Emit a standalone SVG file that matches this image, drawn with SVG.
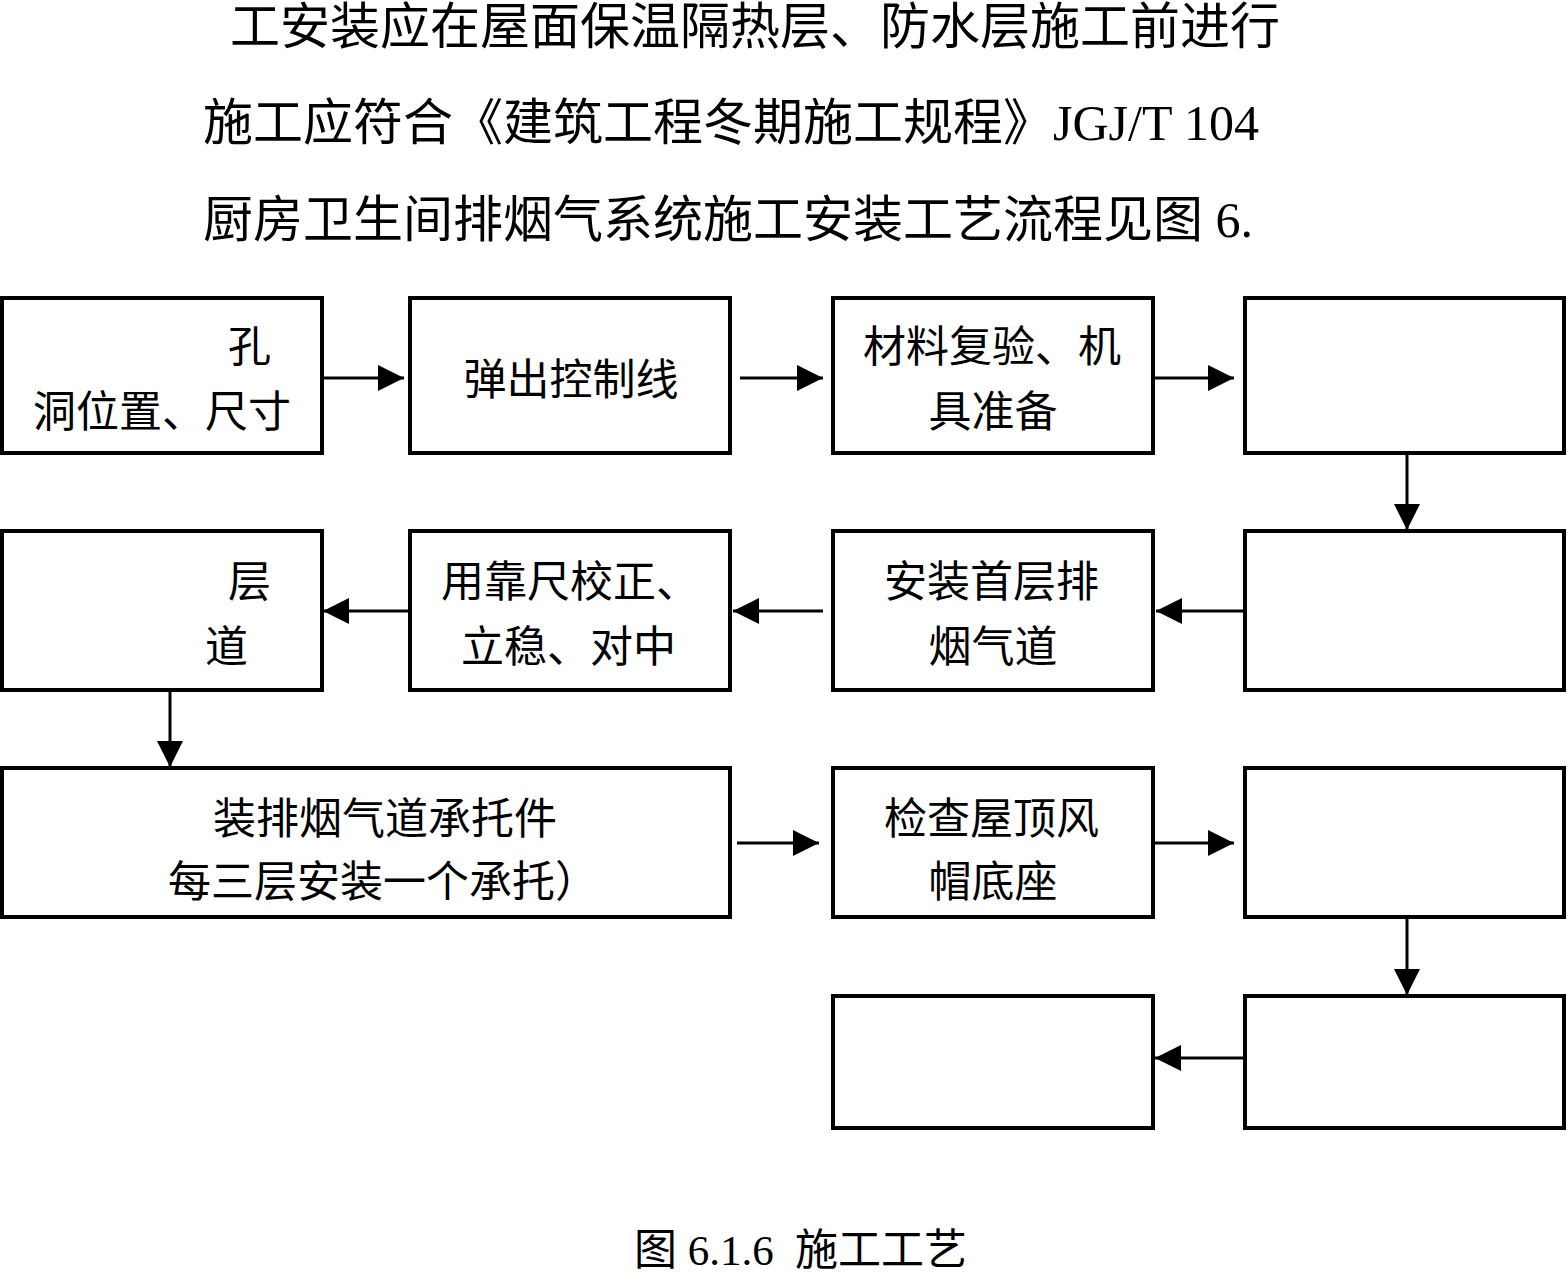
<svg xmlns="http://www.w3.org/2000/svg" width="1567" height="1272" viewBox="0 0 1567 1272">
<style>
  .bg{fill:#ffffff}
  .box{fill:#ffffff;stroke:#000;stroke-width:4}
  .t{font-family:"Liberation Serif","Noto Sans CJK SC",serif;font-size:43px;fill:#000}
  .h{font-family:"Liberation Serif","Noto Sans CJK SC",serif;font-size:50px;fill:#000}
  .c{text-anchor:middle}
  .ln{stroke:#000;stroke-width:3;fill:none;marker-end:url(#ah)}
</style>
<defs>
  <marker id="ah" markerUnits="userSpaceOnUse" markerWidth="28" markerHeight="26" refX="26" refY="13" orient="auto">
    <path d="M0,0 L26,13 L0,26 Z" fill="#000"/>
  </marker>
</defs>
<rect class="bg" x="0" y="0" width="1567" height="1272"/>

<g id="header">
  <text class="h" x="230" y="44">工安装应在屋面保温隔热层、防水层施工前进行</text>
  <text class="h" x="203" y="140">施工应符合《建筑工程冬期施工规程》JGJ/T 104</text>
  <text class="h" x="203" y="237">厨房卫生间排烟气系统施工安装工艺流程见图 6.</text>
</g>

<g id="n1"><rect class="box" x="2" y="298" width="320" height="155"/>
  <text class="t" x="228" y="362">孔</text>
  <text class="t" x="33" y="427">洞位置、尺寸</text></g>
<g id="n2"><rect class="box" x="410" y="298" width="320" height="155"/>
  <text class="t c" x="571" y="395">弹出控制线</text></g>
<g id="n3"><rect class="box" x="833" y="298" width="320" height="155"/>
  <text class="t" x="863" y="362">材料复验、机</text>
  <text class="t c" x="993" y="427">具准备</text></g>
<g id="n4"><rect class="box" x="1245" y="298" width="319" height="155"/></g>

<g id="n5"><rect class="box" x="1245" y="531" width="319" height="159"/></g>
<g id="n6"><rect class="box" x="833" y="531" width="320" height="159"/>
  <text class="t" x="884" y="597">安装首层排</text>
  <text class="t c" x="993" y="662">烟气道</text></g>
<g id="n7"><rect class="box" x="410" y="531" width="320" height="159"/>
  <text class="t" x="441" y="597">用靠尺校正、</text>
  <text class="t" x="461" y="662">立稳、对中</text></g>
<g id="n8"><rect class="box" x="2" y="531" width="320" height="159"/>
  <text class="t" x="228" y="597">层</text>
  <text class="t" x="205" y="662">道</text></g>

<g id="n9"><rect class="box" x="2" y="768" width="728" height="149"/>
  <text class="t" x="213" y="834">装排烟气道承托件</text>
  <text class="t" x="168" y="897">每三层安装一个承托）</text></g>
<g id="n10"><rect class="box" x="833" y="768" width="320" height="149"/>
  <text class="t" x="884" y="834">检查屋顶风</text>
  <text class="t c" x="993" y="897">帽底座</text></g>
<g id="n11"><rect class="box" x="1245" y="768" width="319" height="149"/></g>

<g id="n12"><rect class="box" x="1245" y="996" width="319" height="132"/></g>
<g id="n13"><rect class="box" x="833" y="996" width="320" height="132"/></g>

<g id="connectors">
  <line class="ln" x1="322" y1="378" x2="404" y2="378"/>
  <line class="ln" x1="740" y1="378" x2="823" y2="378"/>
  <line class="ln" x1="1153" y1="378" x2="1234" y2="378"/>
  <line class="ln" x1="1407" y1="453" x2="1407" y2="530"/>
  <line class="ln" x1="1245" y1="611" x2="1156" y2="611"/>
  <line class="ln" x1="823" y1="611" x2="733" y2="611"/>
  <line class="ln" x1="410" y1="611" x2="323" y2="611"/>
  <line class="ln" x1="170" y1="690" x2="170" y2="767"/>
  <line class="ln" x1="737" y1="843" x2="819" y2="843"/>
  <line class="ln" x1="1153" y1="843" x2="1234" y2="843"/>
  <line class="ln" x1="1407" y1="917" x2="1407" y2="995"/>
  <line class="ln" x1="1245" y1="1058" x2="1155" y2="1058"/>
</g>

<g id="caption">
  <text class="t" x="634" y="1265">图 6.1.6<tspan x="795">施工工艺</tspan></text>
</g>
</svg>
